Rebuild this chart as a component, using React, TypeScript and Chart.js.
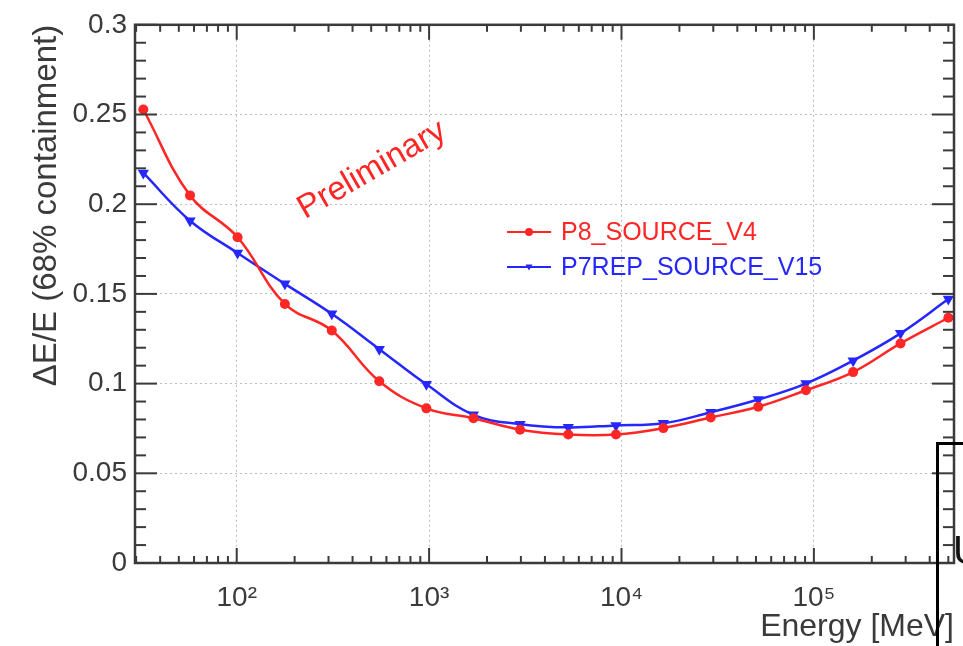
import React, { useEffect, useRef } from 'react';
import { Chart, registerables } from 'chart.js';

Chart.register(...registerables);

// ---- data ----
const energies = [32.7, 57.2, 101, 178, 312, 551, 968, 1700, 2970, 5290, 9360, 16500, 29100, 51400, 90900, 160000, 282000, 500000];
const p8Values = [0.2528, 0.2049, 0.1816, 0.1444, 0.1296, 0.1013, 0.0862, 0.0807, 0.0743, 0.0716, 0.0716, 0.0752, 0.0811, 0.0871, 0.0963, 0.1064, 0.1224, 0.1367];
const p7Values = [0.2174, 0.1908, 0.1728, 0.1556, 0.1389, 0.1192, 0.0996, 0.0826, 0.0774, 0.0756, 0.0767, 0.0779, 0.084, 0.0911, 0.1, 0.1128, 0.128, 0.1471];
const seriesNames = ['P8_SOURCE_V4', 'P7REP_SOURCE_V15'];
const xTicks = [100, 1000, 10000, 100000];
const xTickLabels = ['10²', '10³', '10⁴', '10⁵'];
const yTicks = [0, 0.05, 0.1, 0.15, 0.2, 0.25, 0.3];
const yTickLabels = ['0', '0.05', '0.1', '0.15', '0.2', '0.25', '0.3'];
const xRange = [29.6, 535000];
const yRange = [0, 0.3];
const xTitle = 'Energy [MeV]';
const yTitle = 'ΔE/E (68% containment)';
const watermark = 'Preliminary';

const RED = '#ff2626';
const BLUE = '#2626ff';
const TEXT = '#3a3a3a';
const FRAME = '#3a3a3a';
const FONT = '"Liberation Sans", Arial, Helvetica, sans-serif';

const decorPlugin = {
  id: 'decor',
  afterDraw(chart: any) {
    const { ctx, chartArea: a, scales } = chart;
    const x = scales.x;
    const y = scales.y;
    ctx.save();
    ctx.strokeStyle = FRAME;
    ctx.lineWidth = 2;
    const seg = (x1: number, y1: number, x2: number, y2: number) => {
      ctx.beginPath();
      ctx.moveTo(x1, y1);
      ctx.lineTo(x2, y2);
      ctx.stroke();
    };
    // y ticks (inside, left & right)
    for (let k = 0; k <= 30; k++) {
      const v = k / 100;
      const py = y.getPixelForValue(v);
      const len = k % 5 === 0 ? 22 : 11;
      seg(a.left, py, a.left + len, py);
      seg(a.right, py, a.right - len, py);
    }
    // x ticks (inside, bottom & top)
    for (let d = 1; d <= 6; d++) {
      for (let m = 1; m <= 9; m++) {
        const v = m * Math.pow(10, d);
        if (v < xRange[0] || v > xRange[1]) continue;
        const px = x.getPixelForValue(v);
        const len = m === 1 ? 15 : 7;
        seg(px, a.bottom, px, a.bottom - len);
        seg(px, a.top, px, a.top + len);
      }
    }
    // frame
    ctx.lineWidth = 2.5;
    ctx.strokeRect(a.left, a.top, a.right - a.left, a.bottom - a.top);

    // legend
    const ds = chart.data.datasets;
    const legX = 507;
    const legY = [232, 267];
    ds.forEach((d: any, i: number) => {
      const yy = legY[i];
      ctx.strokeStyle = d.borderColor;
      ctx.fillStyle = d.borderColor;
      ctx.lineWidth = 2;
      seg(legX, yy, legX + 44, yy);
      const cx = legX + 22;
      ctx.beginPath();
      if (i === 0) {
        ctx.arc(cx, yy, 4, 0, Math.PI * 2);
      } else {
        ctx.moveTo(cx - 3.5, yy - 2.5);
        ctx.lineTo(cx + 3.5, yy - 2.5);
        ctx.lineTo(cx, yy + 3.5);
        ctx.closePath();
      }
      ctx.fill();
      ctx.font = `25px ${FONT}`;
      ctx.textAlign = 'left';
      ctx.textBaseline = 'middle';
      ctx.fillText(d.label, legX + 54, yy + 1);
    });

    // watermark
    ctx.save();
    ctx.translate(372, 170);
    ctx.rotate((-30 * Math.PI) / 180);
    ctx.fillStyle = RED;
    ctx.font = `33px ${FONT}`;
    ctx.textAlign = 'center';
    ctx.textBaseline = 'middle';
    ctx.fillText(watermark, 0, 0);
    ctx.restore();

    ctx.restore();
  },
};

export default function App() {
  const ref = useRef<HTMLCanvasElement | null>(null);

  useEffect(() => {
    if (!ref.current) return;
    const chart = new Chart(ref.current, {
      type: 'line',
      data: {
        datasets: [
          {
            label: seriesNames[0],
            data: energies.map((e, i) => ({ x: e, y: p8Values[i] })),
            borderColor: RED,
            backgroundColor: RED,
            borderWidth: 2.5,
            pointStyle: 'circle',
            pointRadius: 5,
            pointBorderWidth: 0,
            tension: 0.4,
          },
          {
            label: seriesNames[1],
            data: energies.map((e, i) => ({ x: e, y: p7Values[i] })),
            borderColor: BLUE,
            backgroundColor: BLUE,
            borderWidth: 2.5,
            pointStyle: 'triangle',
            pointRotation: 180,
            pointRadius: 6.5,
            pointBorderWidth: 0,
            tension: 0.4,
          },
        ],
      },
      options: {
        responsive: false,
        animation: false,
        layout: { padding: { top: 18, right: 9, left: 0, bottom: 0 } },
        plugins: { legend: { display: false }, tooltip: { enabled: false } },
        scales: {
          x: {
            type: 'logarithmic',
            min: xRange[0],
            max: xRange[1],
            afterBuildTicks: (s: any) => {
              s.ticks = xTicks.map((v) => ({ value: v }));
            },
            afterFit: (s: any) => {
              s.height = 83;
            },
            ticks: {
              autoSkip: false,
              maxRotation: 0,
              padding: 18,
              color: TEXT,
              font: { family: FONT, size: 28 },
              callback: (v: any) => {
                const i = xTicks.indexOf(Number(v));
                return i >= 0 ? xTickLabels[i] : '';
              },
            },
            grid: { color: '#bdbdbd', lineWidth: 1, drawTicks: false },
            border: { display: false, dash: [2, 3] },
            title: {
              display: true,
              text: xTitle,
              align: 'end',
              color: TEXT,
              font: { family: FONT, size: 32 },
              padding: { top: 0, bottom: 0 },
            },
          },
          y: {
            min: yRange[0],
            max: yRange[1],
            afterBuildTicks: (s: any) => {
              s.ticks = yTicks.map((v) => ({ value: v }));
            },
            afterFit: (s: any) => {
              s.width = 135;
            },
            ticks: {
              padding: 8,
              color: TEXT,
              font: { family: FONT, size: 28 },
              callback: (v: any) => {
                const i = yTicks.findIndex((t) => Math.abs(t - Number(v)) < 1e-9);
                return i >= 0 ? yTickLabels[i] : '';
              },
            },
            grid: { color: '#bdbdbd', lineWidth: 1, drawTicks: false },
            border: { display: false, dash: [2, 3] },
            title: {
              display: true,
              text: yTitle,
              align: 'end',
              color: TEXT,
              font: { family: FONT, size: 33 },
              padding: { top: 27, bottom: 0 },
            },
          },
        },
      },
      plugins: [decorPlugin],
    } as any);
    return () => chart.destroy();
  }, []);

  return (
    <div style={{ position: 'absolute', left: 0, top: 0, width: 963, height: 646, overflow: 'hidden', background: '#fff' }}>
      <canvas ref={ref} width={963} height={646} style={{ display: 'block', width: 963, height: 646 }} />
      <div
        style={{
          position: 'absolute',
          left: 936,
          top: 442,
          width: 40,
          height: 220,
          borderLeft: '3px solid #000',
          borderTop: '3px solid #000',
        }}
      />
      <div
        style={{
          position: 'absolute',
          left: 953,
          top: 530,
          fontFamily: FONT,
          fontSize: 40,
          color: '#111',
          lineHeight: 1,
        }}
      >
        U
      </div>
    </div>
  );
}
